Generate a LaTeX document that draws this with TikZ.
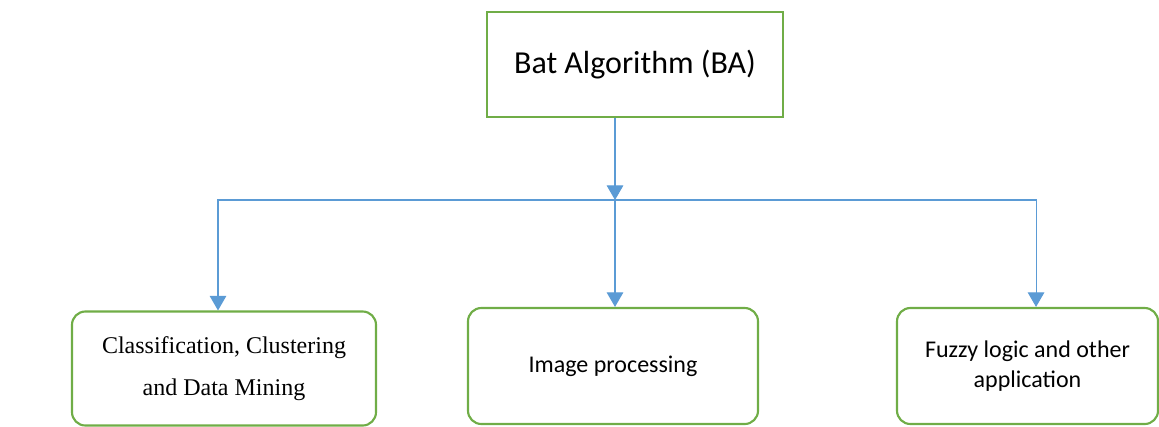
\documentclass[tikz,border=0pt]{standalone}
\usepackage{fontspec}
\setmainfont{Carlito}
\newfontfamily\timesfont{Liberation Serif}
\usetikzlibrary{arrows.meta,positioning}
\definecolor{boxgreen}{HTML}{70AD47}
\definecolor{linkblue}{HTML}{5B9BD5}
\tikzset{
  topbox/.style={draw=boxgreen, line width=1.6pt, minimum width=222pt, minimum height=78.75pt,
    font=\fontsize{24}{28}\selectfont},
  leafbox/.style={draw=boxgreen, line width=1.6pt, rounded corners=10pt, minimum height=87pt,
    align=center, font=\fontsize{18}{22}\selectfont},
  link/.style={draw=linkblue, line width=0.8pt, -{Triangle[width=12.5pt,length=11pt]}}
}
\begin{document}
\begin{tikzpicture}[x=0.75pt,y=-0.75pt]
      \useasboundingbox (0,0) rectangle (1159,426);
      \node[topbox] (ba) at (635,64.5) {Bat Algorithm (BA)};
      \node[leafbox, minimum width=228pt, minimum height=85.5pt,
        font=\timesfont\fontsize{18}{31.5}\selectfont] (cls) at (224,368.5)
        {Classification, Clustering\\and Data Mining};
      \node[leafbox, minimum width=217.5pt] (img) at (613,366) {Image processing};
      \node[leafbox, minimum width=195.75pt] (fuz) at (1027.5,366)
        {Fuzzy logic and other\\application};
      \coordinate (hub) at (615,200);

      % arrows from the root down to the three fields
      \draw[link] (ba.south -| hub) -- (hub);
      \draw[link] (hub) -| ([xshift=-4.5pt]cls.north);
      \draw[link] (hub) -- (hub |- img.north);
      \draw[link] (hub) -| ([xshift=6.4pt]fuz.north);
    \end{tikzpicture}
\end{document}
